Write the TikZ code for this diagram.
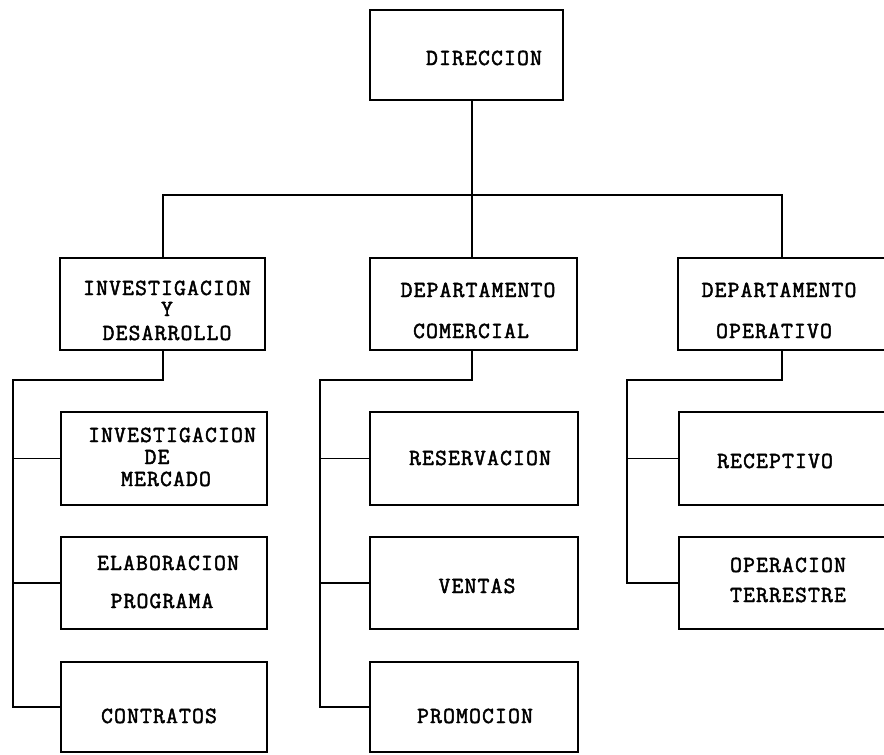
\documentclass[tikz,border=0pt]{standalone}
\usepackage{fontspec}
\newfontfamily\typewriter[LetterSpace=5,FakeBold=2]{Latin Modern Mono}
\begin{document}
\begin{tikzpicture}[x=1pt,y=-1pt,
  box/.style={draw, line width=1.6pt, inner sep=0pt, outer sep=0pt},
  link/.style={line width=1.6pt, line cap=rect},
  lbl/.style={font=\typewriter\fontsize{23}{25}\selectfont, inner sep=0pt, anchor=base}]
\useasboundingbox (0,0) rectangle (884,755);
\clip (0,0) rectangle (884,755);

% ---- boxes: top level
\node[box, minimum width=193pt, minimum height=90pt] (dir) at (466.5,55) {};
% ---- second level
\node[box, minimum width=205pt, minimum height=92pt] (inv) at (162.5,304) {};
\node[box, minimum width=207pt, minimum height=92pt] (com) at (473.5,304) {};
\node[box, minimum width=212pt, minimum height=92pt] (ope) at (784,304) {};
% ---- third level, first column
\node[box, minimum width=206pt, minimum height=93pt] (mer) at (164,458.5) {};
\node[box, minimum width=206pt, minimum height=92pt] (ela) at (164,583) {};
\node[box, minimum width=206pt, minimum height=90pt] (con) at (164,707) {};
% ---- third level, second column
\node[box, minimum width=208pt, minimum height=93pt] (res) at (474,458.5) {};
\node[box, minimum width=208pt, minimum height=92pt] (ven) at (474,583) {};
\node[box, minimum width=208pt, minimum height=90pt] (pro) at (474,707) {};
% ---- third level, third column
\node[box, minimum width=211pt, minimum height=93pt] (rec) at (784.5,458.5) {};
\node[box, minimum width=211pt, minimum height=92pt] (ter) at (784.5,583) {};

% ---- labels
\node[lbl] (t-dir) at (484,65) {DIRECCION};
\node[lbl] (t-inv1) at (167,295) {INVESTIGACION};
\node[lbl] (t-inv2) at (167,316) {Y};
\node[lbl] (t-inv3) at (167,340) {DESARROLLO};
\node[lbl] (t-com1) at (478,297) {DEPARTAMENTO};
\node[lbl] (t-com2) at (471,338) {COMERCIAL};
\node[lbl] (t-ope1) at (779,297) {DEPARTAMENTO};
\node[lbl] (t-ope2) at (774,338) {OPERATIVO};
\node[lbl] (t-mer1) at (172,442) {INVESTIGACION};
\node[lbl] (t-mer2) at (157,464) {DE};
\node[lbl] (t-mer3) at (166,486) {MERCADO};
\node[lbl] (t-ela1) at (168,570) {ELABORACION};
\node[lbl] (t-ela2) at (162,608) {PROGRAMA};
\node[lbl] (t-con) at (159,723) {CONTRATOS};
\node[lbl] (t-res) at (480,465) {RESERVACION};
\node[lbl] (t-ven) at (477,593) {VENTAS};
\node[lbl] (t-pro) at (475,723) {PROMOCION};
\node[lbl] (t-rec) at (775,468) {RECEPTIVO};
\node[lbl] (t-ter1) at (788,572) {OPERACION};
\node[lbl] (t-ter2) at (788,602) {TERRESTRE};

% ---- junction points of the connectors
\coordinate (trunk) at (472,195);
\coordinate (dropA) at (163,195);
\coordinate (dropC) at (782,195);
\coordinate (busA) at (13,380);
\coordinate (busB) at (320,380);
\coordinate (busC) at (627,380);

% ---- top level to second level
\draw[link] (dir.south -| trunk) -- (com.north -| trunk);
\draw[link] (dropA) -- (dropC);
\draw[link] (dropA) -- (inv.north -| dropA);
\draw[link] (dropC) -- (ope.north -| dropC);

% ---- first column
\draw[link] (inv.south -| dropA) -- (busA -| dropA) -- (busA) -- (busA |- con.west);
\draw[link] (busA |- mer.west) -- (mer.west);
\draw[link] (busA |- ela.west) -- (ela.west);
\draw[link] (busA |- con.west) -- (con.west);

% ---- second column
\draw[link] (com.south -| trunk) -- (busB -| trunk) -- (busB) -- (busB |- pro.west);
\draw[link] (busB |- res.west) -- (res.west);
\draw[link] (busB |- ven.west) -- (ven.west);
\draw[link] (busB |- pro.west) -- (pro.west);

% ---- third column
\draw[link] (ope.south -| dropC) -- (busC -| dropC) -- (busC) -- (busC |- ter.west);
\draw[link] (busC |- rec.west) -- (rec.west);
\draw[link] (busC |- ter.west) -- (ter.west);
\end{tikzpicture}
\end{document}
